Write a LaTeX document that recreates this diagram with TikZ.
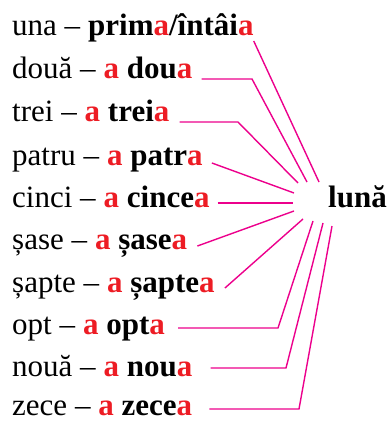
\documentclass[tikz,border=0pt]{standalone}
\usepackage{fontspec}
\setmainfont{Liberation Serif}
\definecolor{endred}{RGB}{237,28,36}
\definecolor{linkpink}{RGB}{236,0,140}
\newcommand{\ra}{\textcolor{endred}{a}}

\begin{document}
\begin{tikzpicture}[x=1pt,y=-1pt,
  word/.style={anchor=base west,inner sep=0pt,font=\fontsize{31}{36}\selectfont},
  link/.style={draw=linkpink,line width=1.4pt,line join=miter}]
\useasboundingbox (0,0) rectangle (390,422);

% numerals and ordinals
\node[word] (r1) at (12,36) {una -- \textbf{prim\ra/întâi\ra}};
\node[word] (r2) at (12,79) {două -- \textbf{\ra{} dou\ra}};
\node[word] (r3) at (12,122) {trei -- \textbf{\ra{} trei\ra}};
\node[word] (r4) at (12,165) {patru -- \textbf{\ra{} patr\ra}};
\node[word] (r5) at (12,207) {cinci -- \textbf{\ra{} cince\ra}};
\node[word] (r6) at (12,249) {șase -- \textbf{\ra{} șase\ra}};
\node[word] (r7) at (12,292) {șapte -- \textbf{\ra{} șapte\ra}};
\node[word] (r8) at (12,334) {opt -- \textbf{\ra{} opt\ra}};
\node[word] (r9) at (12,376) {nouă -- \textbf{\ra{} nou\ra}};
\node[word] (r10) at (12,415) {zece -- \textbf{\ra{} zece\ra}};

% the noun
\node[word,font=\fontsize{31}{36}\selectfont\bfseries] (luna) at (328,207) {lună};

% bends
\coordinate (b2) at (252,79);
\coordinate (b3) at (238,122);
\coordinate (b8) at (278,328);
\coordinate (b9) at (286,368);
\coordinate (b10) at (299,409);

% hub ends
\coordinate (e1) at (319,182);
\coordinate (e2) at (307,182);
\coordinate (e3) at (298,183);
\coordinate (e4) at (294,193);
\coordinate (e5) at (293,203);
\coordinate (e6) at (294,211);
\coordinate (e7) at (303,219);
\coordinate (e8) at (313,221);
\coordinate (e9) at (323,223);
\coordinate (e10) at (332,226);

% connectors
\draw[link] ([xshift=0pt]r1.base east |- 0,41) -- (e1);
\draw[link] ([xshift=9pt]r2.base east |- b2) -- (b2) -- (e2);
\draw[link] ([xshift=10pt]r3.base east |- b3) -- (b3) -- (e3);
\draw[link] ([xshift=9pt]r4.base east |- 0,163) -- (e4);
\draw[link] ([xshift=8pt]r5.base east |- 0,203) -- (e5);
\draw[link] ([xshift=10pt]r6.base east |- 0,246) -- (e6);
\draw[link] ([xshift=10pt]r7.base east |- 0,288) -- (e7);
\draw[link] ([xshift=13pt]r8.base east |- b8) -- (b8) -- (e8);
\draw[link] ([xshift=18pt]r9.base east |- b9) -- (b9) -- (e9);
\draw[link] ([xshift=17pt]r10.base east |- b10) -- (b10) -- (e10);
\end{tikzpicture}
\end{document}
